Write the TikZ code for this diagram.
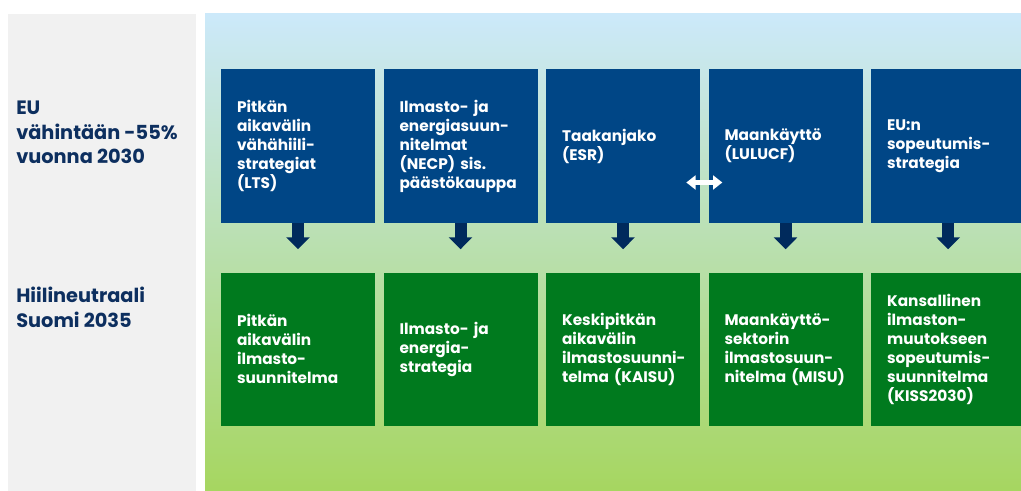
\documentclass[tikz,border=0pt]{standalone}
\usepackage{fontspec}
\setmainfont{Poppins}
\usepackage{xcolor}
\usetikzlibrary{arrows.meta, positioning, calc}

\definecolor{eublue}{RGB}{0,70,134}
\definecolor{figreen}{RGB}{0,122,30}
\definecolor{navy}{RGB}{0,42,92}
\definecolor{labelnavy}{RGB}{13,47,95}
\definecolor{panelgrey}{RGB}{241,241,241}
\definecolor{sky}{RGB}{204,233,250}
\definecolor{mint}{RGB}{180,222,168}
\definecolor{lime}{RGB}{166,214,96}

\begin{document}
\begin{tikzpicture}[
    x=0.75pt, y=-0.75pt,
    node distance=6pt,
    plan/.style={minimum width=115.5pt, minimum height=115pt, text width=91.5pt, inner xsep=12pt, inner ysep=0pt, align=left, font=\fontsize{11.5}{14.25}\selectfont\bfseries, execute at begin node={\exhyphenpenalty=10000\relax}, text=white, fill=#1},
    goal/.style={anchor=north west, inner sep=0pt, align=left, font=\fontsize{14.5}{18.4}\selectfont\bfseries, text=labelnavy},
    pointer/.style={-{Triangle[width=17.25pt, length=9pt]}, line width=9pt, navy, shorten >=17.25pt},
    link/.style={{Triangle[width=10.5pt, length=7pt]}-{Triangle[width=10.5pt, length=7pt]}, line width=3.75pt, white}
]
\useasboundingbox (0,0) rectangle (1021,491);

% Panels behind the boxes
\fill[panelgrey] (8,14) rectangle (196,491);
\shade[top color=sky, middle color=mint, bottom color=lime] (205,14) rectangle (1021,491);

% Targets on the left
\node[goal] (goalEU) at (16,101) {EU\\vähintään -55\%\\vuonna 2030};
\node[goal] (goalFI) at (16,287) {Hiilineutraali\\Suomi 2035};

% EU level
\node[plan=eublue] (eu1) at (298,146) {Pitkän\\aikavälin\\vähähiili-\\strategiat\\(LTS)};
\node[plan=eublue, right=of eu1] (eu2) {Ilmasto- ja\\energiasuun-\\nitelmat\\(NECP) sis.\\päästökauppa};
\node[plan=eublue, right=of eu2] (eu3) {Taakanjako\\(ESR)};
\node[plan=eublue, right=of eu3] (eu4) {Maankäyttö\\(LULUCF)};
\node[plan=eublue, right=of eu4] (eu5) {EU:n\\sopeutumis-\\strategia};

% National level
\node[plan=figreen, below=37pt of eu1] (fi1) {Pitkän\\aikavälin\\ilmasto-\\suunnitelma};
\node[plan=figreen, below=37pt of eu2] (fi2) {Ilmasto- ja\\energia-\\strategia};
\node[plan=figreen, below=37pt of eu3] (fi3) {Keskipitkän\\aikavälin\\ilmastosuunni-\\telma (KAISU)};
\node[plan=figreen, below=37pt of eu4] (fi4) {Maankäyttö-\\sektorin\\ilmastosuun-\\nitelma (MISU)};
\node[plan=figreen, below=37pt of eu5] (fi5) {Kansallinen\\ilmaston-\\muutokseen\\sopeutumis-\\suunnitelma\\(KISS2030)};

\draw[pointer] (eu1.south) -- (fi1.north);
\draw[pointer] (eu2.south) -- (fi2.north);
\draw[pointer] (eu3.south) -- (fi3.north);
\draw[pointer] (eu4.south) -- (fi4.north);
\draw[pointer] (eu5.south) -- (fi5.north);

\draw[link] ($(eu3.east)+(-14,36.5)$) -- ($(eu4.west)+(14,36.5)$);

\end{tikzpicture}
\end{document}
